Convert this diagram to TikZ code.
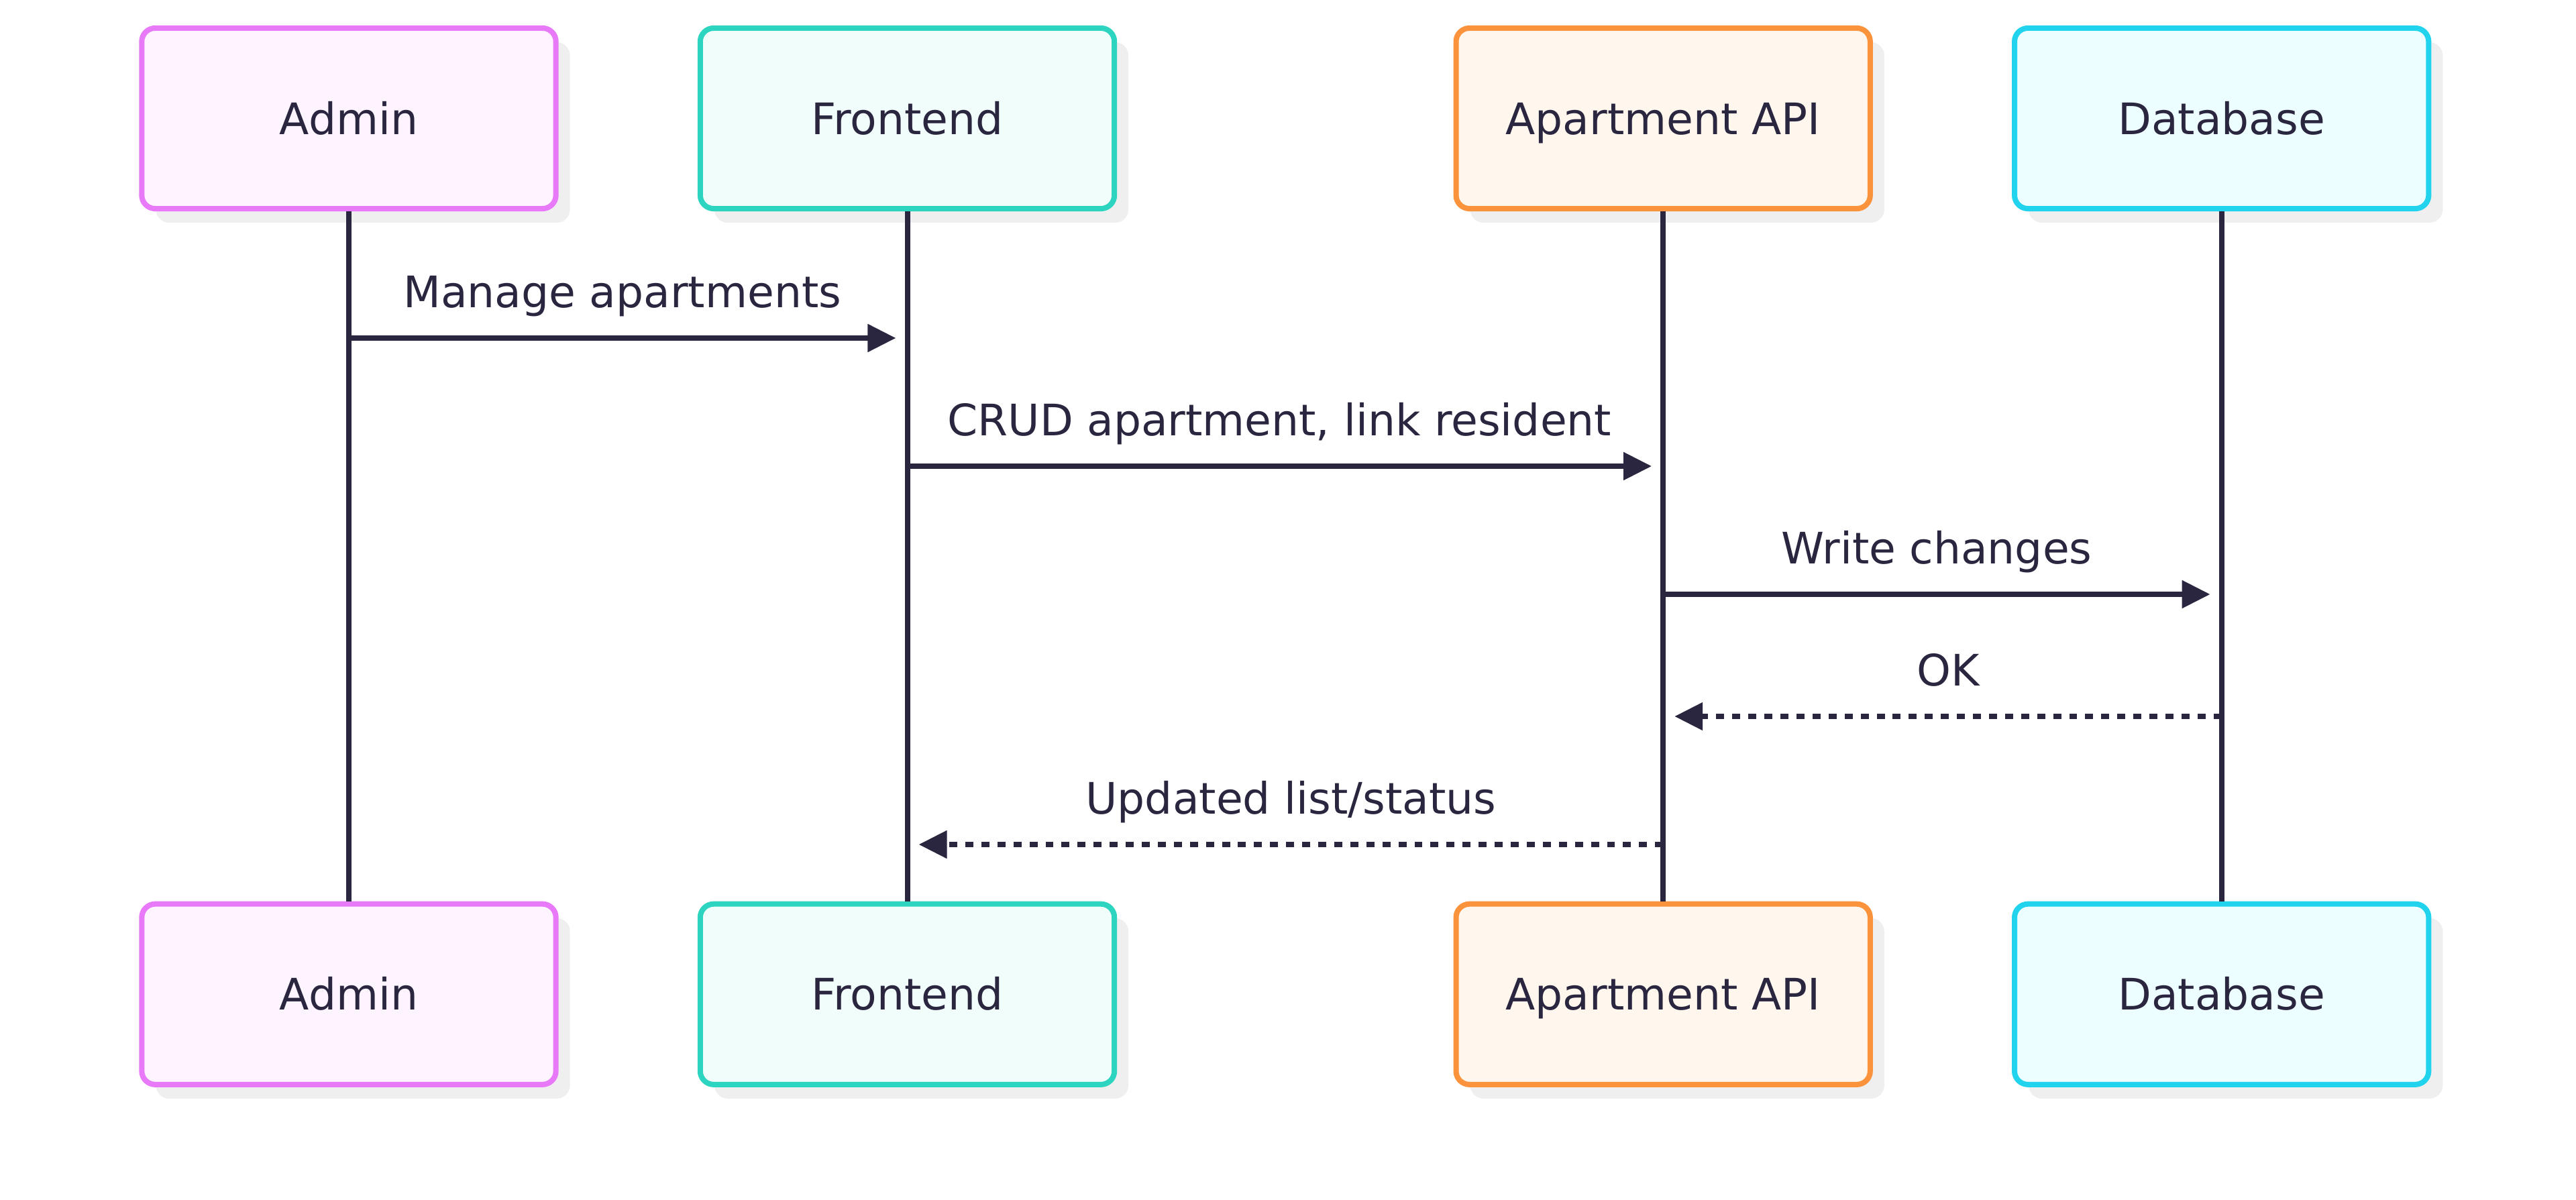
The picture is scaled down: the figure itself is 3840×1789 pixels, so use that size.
\documentclass[tikz,border=0pt]{standalone}
\usepackage{fontspec}
\setmainfont{DejaVu Sans}
\usetikzlibrary{positioning, arrows.meta, shadows}

\definecolor{ink}{HTML}{2A2640}
\definecolor{adminline}{HTML}{E879F9}
\definecolor{adminfill}{HTML}{FDF4FF}
\definecolor{frontline}{HTML}{2DD4BF}
\definecolor{frontfill}{HTML}{F0FDFA}
\definecolor{apiline}{HTML}{FB923C}
\definecolor{apifill}{HTML}{FFF7ED}
\definecolor{dbline}{HTML}{22D3EE}
\definecolor{dbfill}{HTML}{ECFEFF}
\definecolor{shade}{HTML}{EFEFEF}

\begin{document}
\begin{tikzpicture}[
  x=0.01cm, y=-0.01cm,
  font=\fontsize{18.4pt}{22pt}\selectfont, text=ink,
  actor/.style={rectangle, draw, line width=2.28pt, rounded corners=0.2cm, minimum width=6.17cm, minimum height=2.69cm, text centered, text height=13.4pt, text depth=0pt, general shadow={fill=shade, shadow xshift=0.21cm, shadow yshift=-0.21cm}},
  lifeline/.style={draw=ink, line width=2.28pt},
  msg/.style={draw=ink, line width=2.28pt, -{Triangle[length=0.42cm, width=0.40cm]}},
  reply/.style={msg, dash pattern=on 3.4pt off 3.4pt},
  lbl/.style={midway, anchor=base, yshift=0.45cm}
]
\useasboundingbox (0,0) rectangle (3840,1789);

% Participants
\node[actor, draw=adminline, fill=adminfill] (adminT) at (520,176.5) {Admin};
\node[actor, draw=frontline, fill=frontfill, right=2.07cm of adminT] (frontT) {Frontend};
\node[actor, draw=apiline, fill=apifill, right=5.01cm of frontT] (apiT) {Apartment API};
\node[actor, draw=dbline, fill=dbfill, right=2.07cm of apiT] (dbT) {Database};

\node[actor, draw=adminline, fill=adminfill, below=10.28cm of adminT] (adminB) {Admin};
\node[actor, draw=frontline, fill=frontfill, below=10.28cm of frontT] (frontB) {Frontend};
\node[actor, draw=apiline, fill=apifill, below=10.28cm of apiT] (apiB) {Apartment API};
\node[actor, draw=dbline, fill=dbfill, below=10.28cm of dbT] (dbB) {Database};

% Lifelines
\draw[lifeline] (adminT) -- (adminB);
\draw[lifeline] (frontT) -- (frontB);
\draw[lifeline] (apiT) -- (apiB);
\draw[lifeline] (dbT) -- (dbB);

% Messages
\coordinate (m1) at (0,504);
\coordinate (m2) at (0,695);
\coordinate (m3) at (0,886);
\coordinate (m4) at (0,1068);
\coordinate (m5) at (0,1259);

\draw[msg] (adminT |- m1) -- ([xshift=-0.17cm]frontT |- m1) node[lbl] {Manage apartments};
\draw[msg] (frontT |- m2) -- ([xshift=-0.17cm]apiT |- m2) node[lbl] {CRUD apartment, link resident};
\draw[msg] (apiT |- m3) -- ([xshift=-0.17cm]dbT |- m3) node[lbl] {Write changes};
\draw[reply] (dbT |- m4) -- ([xshift=0.17cm]apiT |- m4) node[lbl] {OK};
\draw[reply] (apiT |- m5) -- ([xshift=0.17cm]frontT |- m5) node[lbl] {Updated list/status};

\end{tikzpicture}
\end{document}
